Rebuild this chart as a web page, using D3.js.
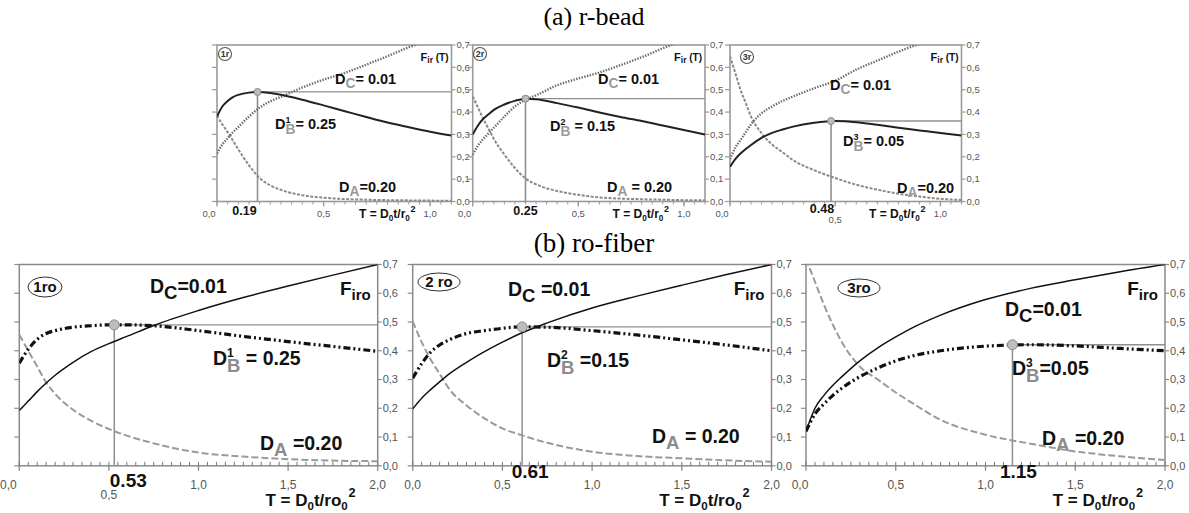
<!DOCTYPE html>
<html><head><meta charset="utf-8">
<script src="https://cdn.jsdelivr.net/npm/d3@7"></script>
<style>body{margin:0;background:#fff} svg{display:block} text{font-family:"Liberation Sans",Arial,sans-serif}</style>
</head><body><svg id="c" width="1189" height="513"></svg>
<script>
// ---------------- DATA ----------------
const beadT = [0,0.025,0.05,0.075,0.1,0.15,0.2,0.25,0.3,0.4,0.5,0.6,0.7,0.8,0.9,1.0,1.1];
const r1_DA = [0.385,0.345,0.31,0.272,0.233,0.162,0.105,0.072,0.052,0.028,0.017,0.011,0.008,0.006,0.005,0.004,0.003];
const r1_DB = [0.38,0.425,0.45,0.467,0.477,0.487,0.49,0.485,0.477,0.455,0.43,0.404,0.378,0.353,0.332,0.312,0.295];
const r1_DC = [0.215,0.255,0.283,0.31,0.333,0.38,0.42,0.448,0.468,0.51,0.545,0.575,0.612,0.65,0.69,0.725,0.76];
const r2_DA = [0.47,0.42,0.37,0.325,0.28,0.21,0.15,0.103,0.077,0.047,0.03,0.018,0.013,0.01,0.008,0.006,0.005];
const r2_DB = [0.30,0.34,0.37,0.39,0.41,0.434,0.45,0.46,0.457,0.44,0.42,0.398,0.378,0.36,0.34,0.32,0.30];
const r2_DC = [0.21,0.25,0.28,0.305,0.33,0.38,0.425,0.455,0.475,0.52,0.55,0.577,0.61,0.645,0.685,0.72,0.75];
const r3_DA = [0.65,0.575,0.50,0.44,0.38,0.305,0.255,0.22,0.185,0.14,0.105,0.075,0.053,0.035,0.022,0.012,0.007];
const r3_DB = [0.155,0.19,0.215,0.235,0.253,0.285,0.307,0.322,0.335,0.352,0.36,0.355,0.343,0.33,0.318,0.306,0.295];
const r3_DC = [0.19,0.24,0.275,0.31,0.345,0.395,0.425,0.45,0.47,0.507,0.54,0.59,0.63,0.67,0.705,0.735,0.76];

const fiberT = [0,0.05,0.1,0.15,0.2,0.3,0.4,0.5,0.6,0.75,1.0,1.25,1.5,1.75,2.0];
const ro1_DA = [0.456,0.40,0.345,0.29,0.25,0.195,0.157,0.128,0.105,0.078,0.046,0.032,0.023,0.018,0.016];
const ro1_DB = [0.357,0.405,0.44,0.46,0.47,0.482,0.487,0.49,0.49,0.487,0.47,0.45,0.432,0.415,0.398];
const ro1_DC = [0.192,0.225,0.258,0.288,0.315,0.36,0.397,0.425,0.45,0.488,0.54,0.585,0.625,0.663,0.70];
const ro2_DA = [0.502,0.43,0.37,0.32,0.27,0.21,0.165,0.13,0.108,0.08,0.049,0.034,0.026,0.019,0.014];
const ro2_DB = [0.305,0.355,0.395,0.42,0.437,0.46,0.47,0.478,0.483,0.482,0.47,0.455,0.438,0.42,0.40];
const ro2_DC = [0.198,0.235,0.265,0.292,0.318,0.36,0.397,0.43,0.46,0.497,0.549,0.59,0.628,0.665,0.70];
const ro3_DA = [0.72,0.64,0.56,0.49,0.43,0.345,0.30,0.255,0.215,0.16,0.108,0.077,0.05,0.033,0.02];
const ro3_DB = [0.12,0.18,0.215,0.245,0.27,0.31,0.34,0.365,0.383,0.40,0.416,0.421,0.417,0.408,0.40];
const ro3_DC = [0.12,0.20,0.245,0.28,0.31,0.365,0.41,0.448,0.482,0.524,0.578,0.617,0.647,0.675,0.70];

const panelNames = ["1r","2r","3r","1ro","2 ro","3ro"];
const optT = [0.19,0.25,0.48,0.53,0.61,1.15];
const optF = [0.49,0.46,0.36,0.49,0.483,0.421];
const optLabels = ["0.19","0.25","0.48","0.53","0.61","1.15"];
const dBSup = ["1","2","3","1","2","3"];
const dCText = ["= 0.01","= 0.01","= 0.01","=0.01"," =0.01","=0.01"];
const dBText = ["= 0.25"," = 0.15","= 0.05","   = 0.25"," =0.15","=0.05"];
const dAText = ["=0.20"," = 0.20","=0.20"," =0.20"," = 0.20"," =0.20"];
const yTicks = [0,0.1,0.2,0.3,0.4,0.5,0.6,0.7];
const yTickLabels = ["0,0","0,1","0,2","0,3","0,4","0,5","0,6","0,7"];
const beadXTicks = [0,0.5,1.0];
const beadXTickLabels = ["0,0","0,5","1,0"];
const fiberXTicks = [0,0.5,1.0,1.5,2.0];
const fiberXTickLabels = ["0,0","0,5","1,0","1,5","2,0"];
const titles = ["(a) r-bead","(b) ro-fiber"];

// ---------------- LAYOUT ----------------
const svg = d3.select("#c");
const panels = [
  {kind:"bead", x0:217, x1:451.5, yb:201.5, yt:45, xMax:1.1, T:beadT, DA:r1_DA, DB:r1_DB, DC:r1_DC,
   name:[225,54], dc:[335,84], db:[275,129], da:[339,192], optDx:-13, optDy:13.5, zeroDx:-8},
  {kind:"bead", x0:472.7, x1:705, yb:201.5, yt:45, xMax:1.1, T:beadT, DA:r2_DA, DB:r2_DB, DC:r2_DC,
   name:[480,54], dc:[598,84], db:[550,131], da:[607,192], optDx:0, optDy:13.5, zeroDx:-8},
  {kind:"bead", x0:730, x1:961.5, yb:201.5, yt:45, xMax:1.1, T:beadT, DA:r3_DA, DB:r3_DB, DC:r3_DC,
   name:[747,57], dc:[830,90], db:[843,146], da:[897,193], optDx:-9, optDy:11.5, zeroDx:-8},
  {kind:"fiber", x0:19.3, x1:377.7, yb:465.8, yt:264.5, xMax:2, T:fiberT, DA:ro1_DA, DB:ro1_DB, DC:ro1_DC,
   name:[45,287,17,10], dc:[150,293], db:[213,365], da:[260,450], optDx:14, optDy:21, zeroDx:-11},
  {kind:"fiber", x0:412.7, x1:771.5, yb:465.8, yt:264.5, xMax:2, T:fiberT, DA:ro2_DA, DB:ro2_DB, DC:ro2_DC,
   name:[439,282,21,9], dc:[508,296], db:[547,367], da:[652,443], optDx:8, optDy:12, zeroDx:0},
  {kind:"fiber", x0:806, x1:1165, yb:465.8, yt:264.5, xMax:2, T:fiberT, DA:ro3_DA, DB:ro3_DB, DC:ro3_DC,
   name:[859,288,21,9], dc:[1005,316], db:[1012,375], da:[1042,445], optDx:6, optDy:12, zeroDx:-6}
];

svg.append("text").attr("x",594).attr("y",25).attr("text-anchor","middle")
  .style("font-family","'Liberation Serif','Times New Roman',serif").attr("font-size",26).text(titles[0]);
svg.append("text").attr("x",594).attr("y",252).attr("text-anchor","middle")
  .style("font-family","'Liberation Serif','Times New Roman',serif").attr("font-size",27).text(titles[1]);

function dLabel(g, x, y, fs, sub, subColor, sup, rest) {
  const t = g.append("text").attr("x",x).attr("y",y).attr("font-size",fs).attr("font-weight","bold").attr("fill","#111");
  t.append("tspan").text("D");
  let cur;
  if (sup) {
    const up = fs*0.42, down = fs*0.36;
    t.append("tspan").attr("font-size", fs*0.62).attr("dy", -up).text(sup);
    t.append("tspan").attr("font-size", fs*0.95).attr("fill",subColor)
      .attr("dx", -fs*0.62*0.556).attr("dy", up+down).text(sub);
    cur = down;
  } else {
    t.append("tspan").attr("font-size", fs*0.95).attr("fill",subColor).attr("dy", fs*0.3).text(sub);
    cur = fs*0.3;
  }
  t.append("tspan").attr("dy", -cur).text(rest);
}

panels.forEach((p, i) => {
  const bead = p.kind === "bead";
  const x = d3.scaleLinear().domain([0, p.xMax]).range([p.x0, p.x1]);
  const y = d3.scaleLinear().domain([0, 0.7]).range([p.yb, p.yt]);
  const g = svg.append("g");
  const axisCol = bead ? "#9a9a9a" : "#8a8a8a";
  const clipId = "clip" + i;
  svg.append("clipPath").attr("id", clipId).append("rect")
    .attr("x", p.x0).attr("y", p.yt).attr("width", p.x1 - p.x0).attr("height", p.yb - p.yt);

  g.append("rect").attr("x",p.x0).attr("y",p.yt).attr("width",p.x1-p.x0).attr("height",p.yb-p.yt)
    .attr("fill","none").attr("stroke",axisCol).attr("stroke-width", bead?1.6:1.5);

  yTicks.forEach((v, k) => {
    g.append("line").attr("x1",p.x1).attr("x2",p.x1+4).attr("y1",y(v)).attr("y2",y(v)).attr("stroke",axisCol).attr("stroke-width",1.2);
    g.append("line").attr("x1",p.x0-5).attr("x2",p.x0).attr("y1",y(v)).attr("y2",y(v)).attr("stroke",axisCol).attr("stroke-width",1.2);
    g.append("text").attr("x",p.x1+5).attr("y",y(v)).attr("dy","0.35em")
      .attr("font-size", bead?9.5:11).attr("fill","#555").text(yTickLabels[k]);
  });

  const xMinor = d3.range(0, p.xMax + 1e-9, 0.05);
  xMinor.forEach(v => {
    if (bead) {
      g.append("line").attr("x1",x(v)).attr("x2",x(v)).attr("y1",p.yb).attr("y2",p.yb+3).attr("stroke",axisCol).attr("stroke-width",1);
    } else {
      g.append("line").attr("x1",x(v)).attr("x2",x(v)).attr("y1",p.yb-4).attr("y2",p.yb).attr("stroke","#777").attr("stroke-width",1);
    }
  });
  const xt = bead ? beadXTicks : fiberXTicks;
  const xtl = bead ? beadXTickLabels : fiberXTickLabels;
  xt.forEach((v, k) => {
    g.append("line").attr("x1",x(v)).attr("x2",x(v)).attr("y1",p.yb).attr("y2",p.yb+5).attr("stroke",axisCol).attr("stroke-width",1.3);
    let lx = x(v) + (v === 0 ? p.zeroDx : 0);
    let ly = bead ? p.yb + 15 : p.yb + 23;
    if (Math.abs(v - optT[i]) < 0.1) ly += bead ? 6 : 10;
    g.append("text").attr("x",lx).attr("y",ly).attr("text-anchor","middle")
      .attr("font-size", bead?9.5:12).attr("fill","#555").text(xtl[k]);
  });

  const cg = g.append("g").attr("clip-path","url(#" + clipId + ")");
  const mk = arr => d3.line().x((d, j) => x(p.T[j])).y(d => y(d)).curve(d3.curveMonotoneX)(arr);

  cg.append("line").attr("x1",x(optT[i])).attr("x2",x(optT[i])).attr("y1",y(0)).attr("y2",y(optF[i]))
    .attr("stroke","#8f8f8f").attr("stroke-width",bead?1.6:1.5);
  cg.append("line").attr("x1",x(optT[i])).attr("x2",p.x1).attr("y1",y(optF[i])).attr("y2",y(optF[i]))
    .attr("stroke","#8f8f8f").attr("stroke-width",1.3);

  if (bead) {
    cg.append("path").attr("d", mk(p.DA)).attr("fill","none").attr("stroke","#8a8a8a").attr("stroke-width",2).attr("stroke-dasharray","3,1.5");
    cg.append("path").attr("d", mk(p.DC)).attr("fill","none").attr("stroke","#6a6a6a").attr("stroke-width",2.4).attr("stroke-dasharray","1.4,1.4");
    cg.append("path").attr("d", mk(p.DB)).attr("fill","none").attr("stroke","#222").attr("stroke-width",2);
  } else {
    cg.append("path").attr("d", mk(p.DA)).attr("fill","none").attr("stroke","#9a9a9a").attr("stroke-width",2).attr("stroke-dasharray","7,3");
    cg.append("path").attr("d", mk(p.DC)).attr("fill","none").attr("stroke","#111").attr("stroke-width",1.5);
    cg.append("path").attr("d", mk(p.DB)).attr("fill","none").attr("stroke","#111").attr("stroke-width",3.2).attr("stroke-dasharray","7,3,2,3,2,3");
  }
  g.append("circle").attr("cx",x(optT[i])).attr("cy",y(optF[i])).attr("r",bead?3.5:5)
    .attr("fill","#bdbdbd").attr("stroke","#8a8a8a").attr("stroke-width",1);

  g.append("text").attr("x", x(optT[i]) + p.optDx).attr("y", p.yb + p.optDy)
    .attr("text-anchor","middle").attr("font-weight","bold").attr("font-size", bead?12.5:19).attr("fill","#111").text(optLabels[i]);

  const s = bead ? 12 : 17;
  const at = g.append("text").attr("x", p.x1 - (bead?36:22)).attr("y", bead ? p.yb + 16 : p.yb + 40)
    .attr("text-anchor","end").attr("font-weight","bold").attr("font-size", s).attr("fill","#111");
  at.append("tspan").text("T = D");
  at.append("tspan").attr("font-size",s*0.68).attr("dy",s*0.25).text("0");
  at.append("tspan").attr("dy",-s*0.25).text(bead ? "t/r" : "t/ro");
  at.append("tspan").attr("font-size",s*0.68).attr("dy",s*0.25).text("0");
  at.append("tspan").attr("font-size",s*0.75).attr("dy",-s*0.75).attr("dx",s*0.05).text("2");

  if (bead) {
    g.append("circle").attr("cx",p.name[0]).attr("cy",p.name[1]).attr("r",6.5).attr("fill","none").attr("stroke","#555").attr("stroke-width",1.1);
    g.append("text").attr("x",p.name[0]).attr("y",p.name[1]).attr("dy","0.35em").attr("text-anchor","middle")
      .attr("font-weight","bold").attr("font-size",9).attr("fill","#333").text(panelNames[i]);
  } else {
    g.append("ellipse").attr("cx",p.name[0]).attr("cy",p.name[1]).attr("rx",p.name[2]).attr("ry",p.name[3])
      .attr("fill","none").attr("stroke","#333").attr("stroke-width",1);
    g.append("text").attr("x",p.name[0]).attr("y",p.name[1]).attr("dy","0.36em").attr("text-anchor","middle")
      .attr("font-weight","bold").attr("font-size",15).attr("fill","#111").text(panelNames[i]);
  }

  const f = g.append("text").attr("x", p.x1 - (bead?3:7)).attr("y", bead ? p.yt + 16 : p.yt + 30)
    .attr("text-anchor","end").attr("font-weight","bold").attr("fill","#111").attr("font-size", bead?11:19);
  f.append("tspan").text("F");
  if (bead) {
    f.append("tspan").attr("font-size",8.5).attr("dy",2).text("ir");
    f.append("tspan").attr("font-size",10).attr("dy",-2).text(" (T)");
  } else {
    f.append("tspan").attr("font-size",15).attr("dy",5).text("iro");
  }

  const fs = bead ? 14.5 : 19.5;
  const subGray = bead ? "#9a9a9a" : "#8c8c8c";
  dLabel(g, p.dc[0], p.dc[1], fs, "C", bead ? subGray : "#111", null, dCText[i]);
  dLabel(g, p.db[0], p.db[1], fs, "B", subGray, dBSup[i], dBText[i]);
  dLabel(g, p.da[0], p.da[1], fs, "A", subGray, null, dAText[i]);
});
</script></body></html>
